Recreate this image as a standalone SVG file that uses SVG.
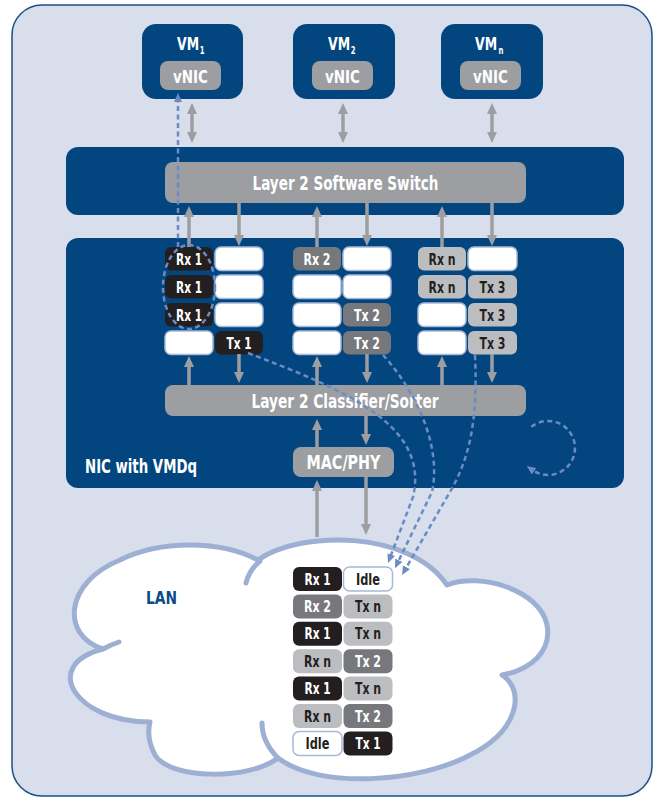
<svg xmlns="http://www.w3.org/2000/svg" width="662" height="799" viewBox="0 0 662 799">
<style>
.t{font-family:"Liberation Sans Narrow","DejaVu Sans Condensed","Liberation Sans",Arial,sans-serif;font-stretch:condensed;font-weight:bold}
.hd{font-size:19px;text-anchor:middle;fill:#fff}
.vm{font-size:18px;fill:#fff}
.vn{font-size:18px;text-anchor:middle;fill:#fff}
.q{font-size:15px;text-anchor:middle}
.navy{fill:#03467f}
.gb{fill:#9c9ea1}
.k{fill:#231f20}
.g{fill:#77787b}
.l{fill:#bcbdc0}
.e{fill:#fff;stroke:#a7b9d8;stroke-width:1.5}
.tw{fill:#fff}
.td{fill:#231f20}
.ga{stroke:#9c9ea1;stroke-width:3.5;fill:none}
.da{stroke:#6a8bc4;stroke-width:2.5;stroke-dasharray:5 3.5;fill:none}
</style>
<defs>
<marker id="ag" viewBox="0 0 11 10" refX="3" refY="5" markerWidth="11" markerHeight="10" markerUnits="userSpaceOnUse" orient="auto-start-reverse"><path d="M0,0 L11,5 L0,10 z" fill="#9c9ea1"/></marker>
<marker id="ab" viewBox="0 0 9 8" refX="2" refY="4" markerWidth="9" markerHeight="8" markerUnits="userSpaceOnUse" orient="auto"><path d="M0,0 L9,4 L0,8 z" fill="#6a8bc4"/></marker>
</defs>

<rect id="frame" x="12" y="5" width="640" height="791" rx="30" fill="#d8deeb" stroke="#1a4f88" stroke-width="1.5"/>

<g id="vm1">
<rect class="navy" x="142" y="24" width="101" height="75" rx="14"/>
<rect class="gb" x="160" y="61" width="61" height="29" rx="8"/>
<text class="t vm" transform="translate(177,50) scale(0.77,1)">VM<tspan font-size="10" dx="1" dy="4">1</tspan></text>
<text class="t vn" x="190.5" y="82.5" textLength="35" lengthAdjust="spacingAndGlyphs">vNIC</text>
</g>
<g id="vm2">
<rect class="navy" x="293" y="24" width="102" height="75" rx="14"/>
<rect class="gb" x="312" y="61" width="61" height="29" rx="8"/>
<text class="t vm" transform="translate(328,50) scale(0.77,1)">VM<tspan font-size="10" dx="1" dy="4">2</tspan></text>
<text class="t vn" x="342.5" y="82.5" textLength="35" lengthAdjust="spacingAndGlyphs">vNIC</text>
</g>
<g id="vmn">
<rect class="navy" x="441" y="24" width="102" height="75" rx="14"/>
<rect class="gb" x="460" y="61" width="61" height="29" rx="8"/>
<text class="t vm" transform="translate(475,50) scale(0.77,1)">VM<tspan font-size="10" dx="2" dy="4">n</tspan></text>
<text class="t vn" x="490.5" y="82.5" textLength="35" lengthAdjust="spacingAndGlyphs">vNIC</text>
</g>

<g id="switch">
<rect class="navy" x="66" y="147" width="558" height="68" rx="12"/>
<rect class="gb" x="165" y="162" width="361" height="41" rx="8"/>
<text class="t hd" x="345.5" y="189.5" textLength="186" lengthAdjust="spacingAndGlyphs">Layer 2 Software Switch</text>
</g>

<g id="nic">
<rect class="navy" x="66" y="238" width="558" height="250" rx="12"/>
<text class="t" x="85" y="473" font-size="19" fill="#fff" textLength="112" lengthAdjust="spacingAndGlyphs">NIC with VMDq</text>
</g>

<g id="queues-vm1">
<rect class="k" x="165" y="247" width="48" height="23.5" rx="6"/><text class="t q tw" x="189" y="264.5" textLength="26" lengthAdjust="spacingAndGlyphs">Rx 1</text>
<rect class="e" x="215" y="247" width="48" height="23.5" rx="6"/>
<rect class="k" x="165" y="275" width="48" height="23.5" rx="6"/><text class="t q tw" x="189" y="292.5" textLength="26" lengthAdjust="spacingAndGlyphs">Rx 1</text>
<rect class="e" x="215" y="275" width="48" height="23.5" rx="6"/>
<rect class="k" x="165" y="303" width="48" height="23.5" rx="6"/><text class="t q tw" x="189" y="320.5" textLength="26" lengthAdjust="spacingAndGlyphs">Rx 1</text>
<rect class="e" x="215" y="303" width="48" height="23.5" rx="6"/>
<rect class="e" x="165" y="331" width="48" height="23.5" rx="6"/>
<rect class="k" x="215" y="331" width="48" height="23.5" rx="6"/><text class="t q tw" x="239" y="348.5" textLength="25" lengthAdjust="spacingAndGlyphs">Tx 1</text>
</g>
<g id="queues-vm2">
<rect class="g" x="293" y="247" width="48" height="23.5" rx="6"/><text class="t q tw" x="317" y="264.5" textLength="27" lengthAdjust="spacingAndGlyphs">Rx 2</text>
<rect class="e" x="343" y="247" width="48" height="23.5" rx="6"/>
<rect class="e" x="293" y="275" width="48" height="23.5" rx="6"/>
<rect class="e" x="343" y="275" width="48" height="23.5" rx="6"/>
<rect class="e" x="293" y="303" width="48" height="23.5" rx="6"/>
<rect class="g" x="343" y="303" width="48" height="23.5" rx="6"/><text class="t q tw" x="367" y="320.5" textLength="26" lengthAdjust="spacingAndGlyphs">Tx 2</text>
<rect class="e" x="293" y="331" width="48" height="23.5" rx="6"/>
<rect class="g" x="343" y="331" width="48" height="23.5" rx="6"/><text class="t q tw" x="367" y="348.5" textLength="26" lengthAdjust="spacingAndGlyphs">Tx 2</text>
</g>
<g id="queues-vmn">
<rect class="l" x="418" y="247" width="48" height="23.5" rx="6"/><text class="t q td" x="442" y="264.5" textLength="27" lengthAdjust="spacingAndGlyphs">Rx n</text>
<rect class="e" x="468" y="247" width="49" height="23.5" rx="6"/>
<rect class="l" x="418" y="275" width="48" height="23.5" rx="6"/><text class="t q td" x="442" y="292.5" textLength="27" lengthAdjust="spacingAndGlyphs">Rx n</text>
<rect class="l" x="468" y="275" width="49" height="23.5" rx="6"/><text class="t q td" x="492.5" y="292.5" textLength="26" lengthAdjust="spacingAndGlyphs">Tx 3</text>
<rect class="e" x="418" y="303" width="48" height="23.5" rx="6"/>
<rect class="l" x="468" y="303" width="49" height="23.5" rx="6"/><text class="t q td" x="492.5" y="320.5" textLength="26" lengthAdjust="spacingAndGlyphs">Tx 3</text>
<rect class="e" x="418" y="331" width="48" height="23.5" rx="6"/>
<rect class="l" x="468" y="331" width="49" height="23.5" rx="6"/><text class="t q td" x="492.5" y="348.5" textLength="26" lengthAdjust="spacingAndGlyphs">Tx 3</text>
</g>

<g id="classifier">
<rect class="gb" x="165" y="385" width="361" height="31" rx="8"/>
<text class="t hd" x="345" y="407.5" textLength="187" lengthAdjust="spacingAndGlyphs">Layer 2 Classifier/Sorter</text>
</g>
<g id="macphy">
<rect class="gb" x="293" y="447" width="101" height="30" rx="8"/>
<text class="t hd" x="343.5" y="469" textLength="74" lengthAdjust="spacingAndGlyphs">MAC/PHY</text>
</g>

<g id="lan">
<path d="M258,560 C300,530 410,530 447,585 C480,572 540,590 547,625 C552,652 530,670 502,675 C525,690 520,730 470,755 C420,782 320,790 278,758 C250,780 170,780 155,755 C148,742 148,730 150,722 C75,722 40,665 103,649 C60,635 65,582 120,560 C160,540 220,540 258,560 Z" fill="#fff" stroke="#9db0d3" stroke-width="5" stroke-linejoin="round"/>
<path d="M260,561 Q249,570 246,583 M103,649 Q110,645 119,642 M278,758 C268,748 262,736 262,723" fill="none" stroke="#9db0d3" stroke-width="5" stroke-linecap="round"/>
<text class="t" x="146" y="604" font-size="18" fill="#0b4a86" textLength="31" lengthAdjust="spacingAndGlyphs">LAN</text>
</g>

<g id="lan-queue">
<rect class="k" x="293" y="567" width="49" height="24" rx="6"/><text class="t q tw" x="317.5" y="584.5" textLength="26" lengthAdjust="spacingAndGlyphs">Rx 1</text>
<rect class="e" x="343.5" y="567" width="49" height="24" rx="6"/><text class="t q td" x="368" y="584.5" textLength="24" lengthAdjust="spacingAndGlyphs">Idle</text>
<rect class="g" x="293" y="594.4" width="49" height="24" rx="6"/><text class="t q tw" x="317.5" y="611.9" textLength="27" lengthAdjust="spacingAndGlyphs">Rx 2</text>
<rect class="l" x="343.5" y="594.4" width="49" height="24" rx="6"/><text class="t q td" x="368" y="611.9" textLength="26" lengthAdjust="spacingAndGlyphs">Tx n</text>
<rect class="k" x="293" y="621.8" width="49" height="24" rx="6"/><text class="t q tw" x="317.5" y="639.3" textLength="26" lengthAdjust="spacingAndGlyphs">Rx 1</text>
<rect class="l" x="343.5" y="621.8" width="49" height="24" rx="6"/><text class="t q td" x="368" y="639.3" textLength="26" lengthAdjust="spacingAndGlyphs">Tx n</text>
<rect class="l" x="293" y="649.2" width="49" height="24" rx="6"/><text class="t q td" x="317.5" y="666.7" textLength="27" lengthAdjust="spacingAndGlyphs">Rx n</text>
<rect class="g" x="343.5" y="649.2" width="49" height="24" rx="6"/><text class="t q tw" x="368" y="666.7" textLength="26" lengthAdjust="spacingAndGlyphs">Tx 2</text>
<rect class="k" x="293" y="676.6" width="49" height="24" rx="6"/><text class="t q tw" x="317.5" y="694.1" textLength="26" lengthAdjust="spacingAndGlyphs">Rx 1</text>
<rect class="l" x="343.5" y="676.6" width="49" height="24" rx="6"/><text class="t q td" x="368" y="694.1" textLength="26" lengthAdjust="spacingAndGlyphs">Tx n</text>
<rect class="l" x="293" y="704" width="49" height="24" rx="6"/><text class="t q td" x="317.5" y="721.5" textLength="27" lengthAdjust="spacingAndGlyphs">Rx n</text>
<rect class="g" x="343.5" y="704" width="49" height="24" rx="6"/><text class="t q tw" x="368" y="721.5" textLength="26" lengthAdjust="spacingAndGlyphs">Tx 2</text>
<rect class="e" x="293" y="731.4" width="49" height="24" rx="6"/><text class="t q td" x="317.5" y="748.9" textLength="24" lengthAdjust="spacingAndGlyphs">Idle</text>
<rect class="k" x="343.5" y="731.4" width="49" height="24" rx="6"/><text class="t q tw" x="368" y="748.9" textLength="25" lengthAdjust="spacingAndGlyphs">Tx 1</text>
</g>

<g id="connectors">
<g class="ga">
<line x1="192" y1="111" x2="192" y2="135" marker-start="url(#ag)" marker-end="url(#ag)"/>
<line x1="343" y1="111" x2="343" y2="135" marker-start="url(#ag)" marker-end="url(#ag)"/>
<line x1="492" y1="111" x2="492" y2="135" marker-start="url(#ag)" marker-end="url(#ag)"/>
<line x1="189" y1="247" x2="189" y2="214" marker-end="url(#ag)"/>
<line x1="317" y1="247" x2="317" y2="214" marker-end="url(#ag)"/>
<line x1="442" y1="247" x2="442" y2="214" marker-end="url(#ag)"/>
<line x1="239" y1="203" x2="239" y2="238" marker-end="url(#ag)"/>
<line x1="367" y1="203" x2="367" y2="238" marker-end="url(#ag)"/>
<line x1="492" y1="203" x2="492" y2="238" marker-end="url(#ag)"/>
<line x1="189" y1="385" x2="189" y2="364" marker-end="url(#ag)"/>
<line x1="317" y1="385" x2="317" y2="364" marker-end="url(#ag)"/>
<line x1="442" y1="385" x2="442" y2="364" marker-end="url(#ag)"/>
<line x1="239" y1="354" x2="239" y2="375" marker-end="url(#ag)"/>
<line x1="367" y1="354" x2="367" y2="375" marker-end="url(#ag)"/>
<line x1="492" y1="354" x2="492" y2="375" marker-end="url(#ag)"/>
<line x1="317" y1="447" x2="317" y2="427" marker-end="url(#ag)"/>
<line x1="366" y1="416" x2="366" y2="437" marker-end="url(#ag)"/>
<line x1="317" y1="537" x2="317" y2="488" marker-end="url(#ag)"/>
<line x1="366" y1="477" x2="366" y2="527" marker-end="url(#ag)"/>
</g>
<g class="da">
<ellipse cx="189" cy="287" rx="26" ry="42"/>
<line x1="178" y1="247" x2="178" y2="100" marker-end="url(#ab)"/>
<path d="M248,353 C345,390 430,425 413,497 L390.5,556.5" marker-end="url(#ab)"/>
<path d="M383,355 C415,390 442,445 432,492 L398,562" marker-end="url(#ab)"/>
<path d="M475,355 C478,420 470,460 447,497 L405.5,569" marker-end="url(#ab)"/>
<path d="M531.4,426.7 A27,27 0 1 1 532.5,470.1" marker-end="url(#ab)"/>
</g>
</g>
</svg>
